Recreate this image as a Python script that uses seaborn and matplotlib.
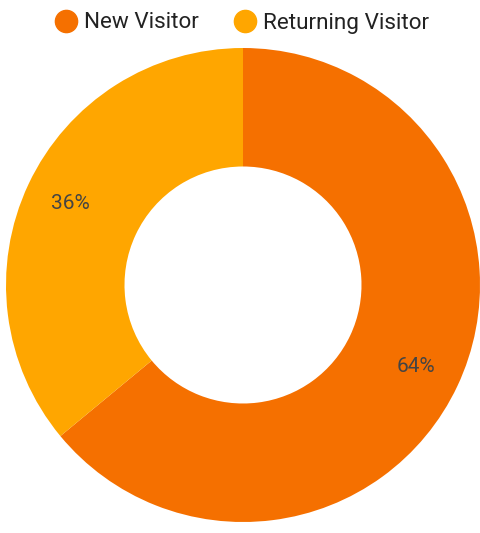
import matplotlib
matplotlib.use("Agg")
import matplotlib.pyplot as plt
from matplotlib.lines import Line2D
import seaborn as sns

categories = ["New Visitor", "Returning Visitor"]
values = [64, 36]
colors = ["#F57000", "#FFA600"]

sns.set_theme(style="white")
plt.rcParams['font.family'] = ['Roboto', 'DejaVu Sans']

W, H = 481, 533
fig = plt.figure(figsize=(W / 100, H / 100), dpi=100)
ax = fig.add_axes([0, 0, 1, 1])

cx, cy, R = 243, H - 285, 237
wedges, texts, autotexts = ax.pie(
    values, colors=colors, startangle=90, counterclock=False,
    center=(cx, cy), radius=R, autopct='%1.0f%%', pctdistance=0.805,
    wedgeprops=dict(width=R * 0.5, linewidth=0),
    textprops=dict(fontsize=15, color='#444444'), frame=True)
ax.set_xlim(0, W)
ax.set_ylim(0, H)
ax.set_aspect('equal')
ax.axis('off')

handles = [Line2D([], [], marker='o', linestyle='none', markersize=16,
                  markerfacecolor=c, markeredgecolor=c) for c in colors]
fig.legend(handles, categories, loc='center', bbox_to_anchor=(241 / W, 1 - 23 / H),
           ncol=2, frameon=False, fontsize=16.2, handletextpad=0.25,
           columnspacing=1.5, labelcolor='#222222', handlelength=1.1)

fig.savefig("out.png", dpi=100)
